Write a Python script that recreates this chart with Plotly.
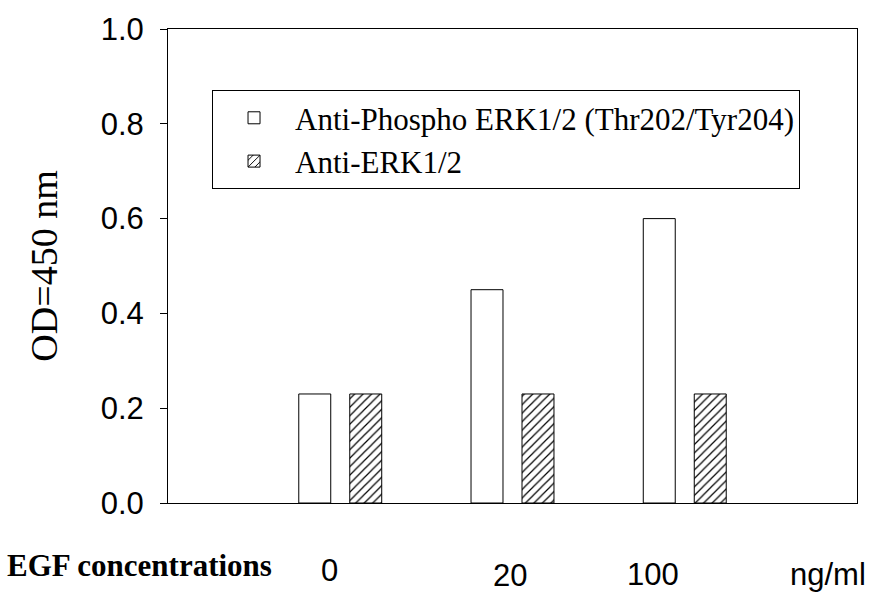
import plotly.graph_objects as go

categories = ["0", "20", "100"]
phospho_values = [0.23, 0.45, 0.60]
erk_values = [0.23, 0.23, 0.23]
series_names = ["Anti-Phospho ERK1/2 (Thr202/Tyr204)", "Anti-ERK1/2"]
y_ticks = [0.0, 0.2, 0.4, 0.6, 0.8, 1.0]
bottom_labels = ["0", "20", "100", "ng/ml"]

SANS = "Liberation Sans, Arial, Helvetica, sans-serif"
SERIF = "Liberation Serif, Times New Roman, Times, serif"

fig = go.Figure()
fig.add_trace(go.Bar(
    x=categories, y=phospho_values, name=series_names[0],
    marker=dict(color="white", line=dict(color="black", width=1)),
))
fig.add_trace(go.Bar(
    x=categories, y=erk_values, name=series_names[1],
    marker=dict(color="white", line=dict(color="black", width=1),
                pattern=dict(shape="/", size=6, solidity=0.2,
                             fgcolor="black", bgcolor="white", fillmode="replace")),
))

fig.update_layout(
    width=874, height=596,
    margin=dict(l=168, r=17, t=22, b=93),
    paper_bgcolor="white", plot_bgcolor="white",
    barmode="group", bargap=0.408, bargroupgap=0.373,
    showlegend=True,
    legend=dict(
        x=0.0639, y=0.871, xanchor="left", yanchor="top",
        bgcolor="white", bordercolor="black", borderwidth=1,
        font=dict(family=SERIF, size=31, color="black"),
        itemwidth=72, tracegroupgap=0,
    ),
)

fig.update_xaxes(
    type="category", range=[-1, 3],
    showticklabels=False, ticks="", showgrid=False, zeroline=False,
    showline=True, linecolor="black", linewidth=1, mirror=True,
)
fig.update_yaxes(
    range=[0, 1], tickvals=y_ticks, tickformat=".1f",
    ticks="outside", ticklen=7, tickcolor="black", tickwidth=1,
    ticklabelstandoff=10, ticklabeloverflow="allow",
    showgrid=False, zeroline=False,
    showline=True, linecolor="black", linewidth=1, mirror=True,
    tickfont=dict(family=SANS, size=31, color="black"),
    title=dict(text="OD=450 nm", font=dict(family=SERIF, size=38, color="black"), standoff=31),
)

fig.add_annotation(
    text="<b>EGF concentrations</b>", xref="paper", yref="paper",
    x=-0.042, y=-0.131, xanchor="center", yanchor="middle", showarrow=False,
    font=dict(family=SERIF, size=31, color="black"),
)
label_x = [0.2344, 0.4964, 0.7046, 0.958]
label_y = [-0.1424, -0.1528, -0.1507, -0.1507]
for t, lx, ly in zip(bottom_labels, label_x, label_y):
    fig.add_annotation(
        text=t, xref="paper", yref="paper", x=lx, y=ly,
        xanchor="center", yanchor="middle", showarrow=False,
        font=dict(family=SANS, size=31, color="black"),
    )

fig.write_html("out.html", config={"displayModeBar": False},
               post_script="document.body.style.margin='0px';")
